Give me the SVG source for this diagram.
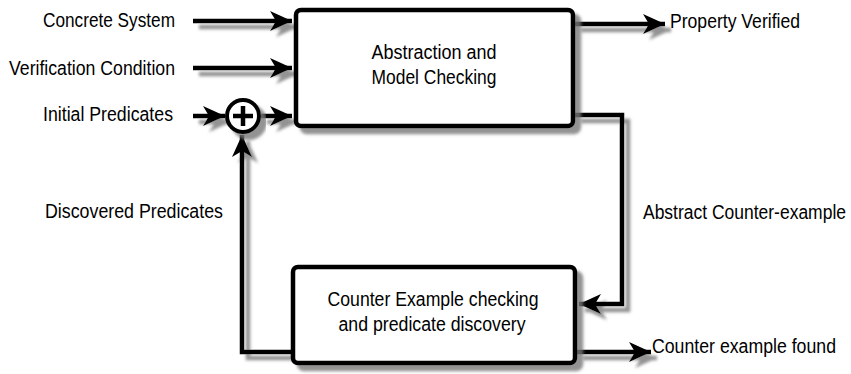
<svg xmlns="http://www.w3.org/2000/svg" width="851" height="374" viewBox="0 0 851 374">
  <defs>
    <filter id="sh" x="-10%" y="-10%" width="130%" height="140%">
      <feDropShadow dx="6" dy="6" stdDeviation="1.8" flood-color="#777" flood-opacity="0.8"/>
    </filter>
    <marker id="ah" markerUnits="userSpaceOnUse" markerWidth="24" markerHeight="22" refX="22" refY="10" orient="auto" overflow="visible">
      <path d="M0,0 L22,10 L0,20 L6,10 Z" fill="#000"/>
    </marker>
  </defs>
  <style>
    text { font-family: "Liberation Sans", Arial, sans-serif; font-size: 20px; fill: #000; }
    .mid { text-anchor: middle; }
    .box { fill: #fff; stroke: #000; stroke-width: 4.5; }
    .ln { fill: none; stroke: #000; stroke-width: 4.5; }
  </style>
  <rect width="851" height="374" fill="#fff"/>

  <g id="connectors" filter="url(#sh)">
    <line class="ln" x1="193" y1="21" x2="292" y2="21" marker-end="url(#ah)"/>
    <line class="ln" x1="193" y1="68" x2="292" y2="68" marker-end="url(#ah)"/>
    <line class="ln" x1="193" y1="116" x2="225" y2="116" marker-end="url(#ah)"/>
    <line class="ln" x1="261" y1="116" x2="292" y2="116" marker-end="url(#ah)"/>
    <polyline class="ln" points="292,352 242,352 242,135" marker-end="url(#ah)"/>
    <line class="ln" x1="575" y1="24" x2="665" y2="24" marker-end="url(#ah)"/>
    <polyline class="ln" points="575,115 622,115 622,304 579,304" marker-end="url(#ah)"/>
    <line class="ln" x1="577" y1="352" x2="651" y2="352" marker-end="url(#ah)"/>
  </g>

  <g id="sum" filter="url(#sh)">
    <circle cx="243" cy="116" r="16" fill="#fff" stroke="#000" stroke-width="4"/>
    <line x1="233" y1="116" x2="253" y2="116" stroke="#000" stroke-width="4.5"/>
    <line x1="243" y1="106" x2="243" y2="126" stroke="#000" stroke-width="4.5"/>
  </g>

  <g id="abstraction">
    <rect class="box" x="296" y="10" width="277" height="116" rx="5" filter="url(#sh)"/>
    <text class="mid" x="434" y="59" textLength="125" lengthAdjust="spacingAndGlyphs" font-size="22">Abstraction and</text>
    <text class="mid" x="434" y="84" textLength="125" lengthAdjust="spacingAndGlyphs" font-size="22">Model Checking</text>
  </g>

  <g id="counter-check">
    <rect class="box" x="293" y="267" width="282" height="96" rx="5" filter="url(#sh)"/>
    <text class="mid" x="433" y="306" textLength="211" lengthAdjust="spacingAndGlyphs" font-size="22">Counter Example checking</text>
    <text class="mid" x="432" y="331" textLength="187" lengthAdjust="spacingAndGlyphs" font-size="22">and predicate discovery</text>
  </g>

  <g id="labels">
    <text x="43" y="27" textLength="132" lengthAdjust="spacingAndGlyphs">Concrete System</text>
    <text x="9" y="75" textLength="166" lengthAdjust="spacingAndGlyphs">Verification Condition</text>
    <text x="43" y="121" textLength="130" lengthAdjust="spacingAndGlyphs">Initial Predicates</text>
    <text x="45" y="218" textLength="178" lengthAdjust="spacingAndGlyphs">Discovered Predicates</text>
    <text x="670" y="28" textLength="130" lengthAdjust="spacingAndGlyphs">Property Verified</text>
    <text x="643" y="219" font-size="16" textLength="203" lengthAdjust="spacingAndGlyphs">Abstract Counter-example</text>
    <text x="652" y="353" font-size="16.5" textLength="184" lengthAdjust="spacingAndGlyphs">Counter example found</text>
  </g>
</svg>
